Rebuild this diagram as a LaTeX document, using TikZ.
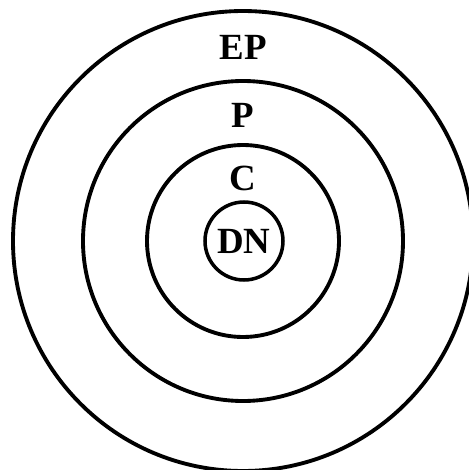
\documentclass[tikz,border=0pt]{standalone}
\usepackage{fontspec}
\setmainfont{Liberation Serif}
\tikzset{
  ring/.style={draw,circle,line width=2.2pt,inner sep=0pt},
  lbl/.style={font=\fontsize{21}{25}\bfseries\selectfont,inner sep=0pt}
}
\begin{document}
\begin{tikzpicture}
		% Cadre
		\useasboundingbox (-4.86,-4.58) rectangle (4.52,4.82);
		\clip (-4.86,-4.58) rectangle (4.52,4.82);

		% Cercles
		\node[ring,minimum size=9.2cm] (ep) at (0,0) {};
		\node[ring,minimum size=6.4cm] (p) at (0,0) {};
		\node[ring,minimum size=3.84cm] (c) at (0,0) {};
		\node[ring,minimum size=1.56cm,line width=2pt,lbl] (dn) at (0.02,0) {DN};

		% Etiquettes
		\node[lbl] (tep) at (0,3.88) {EP};
		\node[lbl] (tp) at (0,2.52) {P};
		\node[lbl] (tc) at (0,1.26) {C};
\end{tikzpicture}
\end{document}
